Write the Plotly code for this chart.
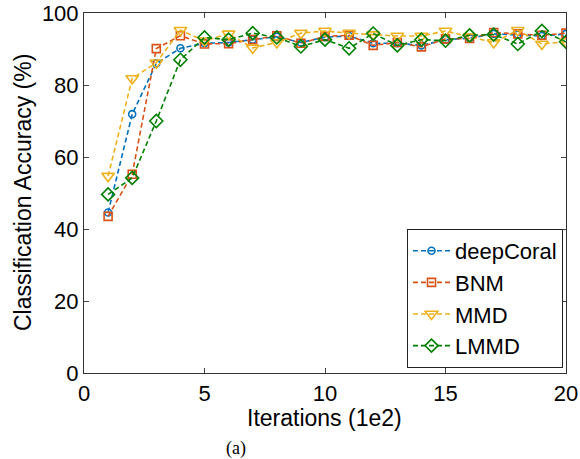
import plotly.graph_objects as go

iterations = list(range(1, 21))
deepcoral = [44.6, 71.9, 86.0, 90.2, 91.6, 91.8, 92.6, 93.4, 91.8, 93.3, 93.6, 91.6, 91.6, 91.0, 92.6, 93.0, 94.2, 94.0, 93.6, 94.2]
bnm       = [43.5, 55.2, 90.1, 93.7, 91.4, 91.5, 92.6, 93.7, 91.6, 93.5, 93.8, 91.0, 91.8, 90.6, 92.8, 92.9, 94.6, 94.2, 93.8, 94.4]
mmd       = [54.7, 81.8, 86.2, 95.2, 92.3, 94.2, 90.3, 91.8, 94.4, 95.0, 94.4, 94.0, 93.6, 93.6, 95.0, 93.4, 91.8, 95.2, 91.4, 92.0]
lmmd      = [49.6, 54.2, 70.0, 87.0, 93.2, 92.6, 94.4, 93.2, 90.7, 92.6, 90.2, 94.3, 91.0, 92.6, 92.3, 93.8, 94.0, 91.4, 95.0, 92.0]

series = [
    ("deepCoral", deepcoral, "#0072BD", "circle-open", 7),
    ("BNM", bnm, "#D95319", "square-open", 8),
    ("MMD", mmd, "#EDB120", "triangle-down-open", 11),
    ("LMMD", lmmd, "#008000", "diamond-open", 10),
]

fig = go.Figure()
for name, vals, color, sym, size in series:
    fig.add_trace(go.Scatter(
        x=iterations, y=vals, name=name, mode="lines+markers",
        line=dict(color=color, width=1.6, dash="5px,3px"),
        marker=dict(symbol=sym, size=size, color=color, line=dict(width=1.6, color=color)),
    ))

FONT = "Liberation Sans, Arial, sans-serif"
tick_font = dict(family=FONT, size=22, color="black")
title_font = dict(family=FONT, size=23, color="black")
L, R, T, B = 84, 14, 13, 86
pw, ph = 580 - L - R, 459 - T - B
fig.update_layout(
    width=580, height=459,
    margin=dict(l=L, r=R, t=T, b=B),
    paper_bgcolor="white", plot_bgcolor="white",
    font=tick_font,
    xaxis=dict(range=[0, 20], tickvals=[0, 5, 10, 15, 20], ticks="inside", ticklen=5,
               showline=True, linecolor="#333", linewidth=1, mirror="ticks", showgrid=False,
               zeroline=False, tickfont=tick_font, automargin=False, ticklabelstandoff=1),
    yaxis=dict(range=[0, 100], tickvals=[0, 20, 40, 60, 80, 100], ticks="inside", ticklen=5,
               showline=True, linecolor="#333", linewidth=1, mirror="ticks", showgrid=False,
               zeroline=False, tickfont=tick_font, automargin=False),
    legend=dict(x=(563 - L) / pw, y=(373 - 368) / ph, xanchor="right", yanchor="bottom",
                bordercolor="#222", borderwidth=1, bgcolor="white",
                font=dict(family=FONT, size=22, color="black"),
                tracegroupgap=0, itemwidth=37),
)
fig.add_annotation(text="Iterations (1e2)", x=(324 - L) / pw, y=(373 - 418) / ph,
                   xref="paper", yref="paper", showarrow=False, xanchor="center", yanchor="middle",
                   font=title_font)
fig.add_annotation(text="Classification Accuracy (%)", x=(23 - L) / pw, y=0.5, textangle=-90,
                   xref="paper", yref="paper", showarrow=False, xanchor="center", yanchor="middle",
                   font=title_font)
fig.add_annotation(text="(a)", x=(236 - L) / pw, y=(373 - 448) / ph, xref="paper", yref="paper",
                   showarrow=False, xanchor="center", yanchor="middle",
                   font=dict(family="Liberation Serif, Times New Roman, serif", size=18, color="black"))

fig.write_html("out.html")
